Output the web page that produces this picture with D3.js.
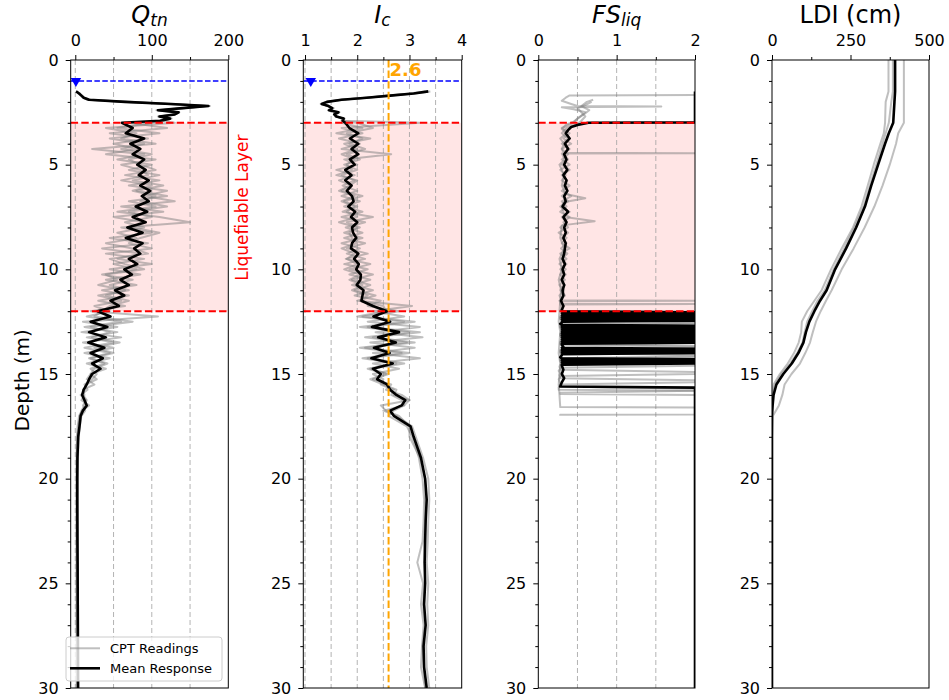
<!DOCTYPE html>
<html>
<head>
<meta charset="utf-8">
<script src="https://cdn.jsdelivr.net/npm/d3@7"></script>
<style>
  body { margin: 0; background: #fff; }
  text { font-family: "DejaVu Sans", sans-serif; }
</style>
</head>
<body>
<div id="chart-area"></div>
<script>
// ---- values (depth in m) ----
var depthGrid = [1.5, 1.6, 1.7, 1.8, 1.9, 2.0, 2.1, 2.2, 2.3, 2.4, 2.5, 2.6, 2.7, 2.8, 2.9,
    3.0, 3.25, 3.5, 3.75, 4.0, 4.25, 4.5, 4.75, 5.0, 5.25, 5.5, 5.75, 6.0, 6.25, 6.5, 6.75,
    7.0, 7.25, 7.5, 7.75, 8.0, 8.25, 8.5, 8.75, 9.0, 9.25, 9.5, 9.75, 10.0, 10.25, 10.5, 10.75,
    11.0, 11.25, 11.5, 11.75, 12.0, 12.25, 12.5, 12.75, 13.0, 13.25, 13.5, 13.75, 14.0, 14.25,
    14.5, 14.75, 15.0, 15.25, 15.5, 15.75, 16.0, 16.25, 16.5, 16.75, 17.0,
    17.5, 18, 19, 20, 21, 22, 23, 24, 25, 26, 27, 28, 29, 30];

var qtnMean = [1, 5, 8, 11, 18, 65, 125, 174, 140, 108, 135, 130, 110, 124, 111,
    61, 75, 66, 90, 72, 85, 75, 90, 81, 92, 83, 96, 85, 98, 87, 96, 79, 94, 75, 92, 68, 88, 66, 88,
    77, 85, 70, 81, 64, 74, 59, 70, 52, 64, 46, 57, 29, 46, 20, 42, 18, 40, 17, 38, 20, 36, 22, 33,
    22, 18, 15, 11, 9, 12, 15, 10, 7,
    5.5, 3.8, 2.8, 2.6, 2.6, 2.7, 2.8, 3, 3.1, 3.2, 3.3, 3.4, 3.5, 3.6];
var qtnCpt1 = [2, 4, 7, 10, 16, 60, 120, 170, 142, 112, 132, 128, 112, 120, 110,
    130, 40, 80, 60, 105, 22, 90, 55, 100, 70, 110, 75, 115, 80, 120, 70, 105, 55, 110, 150, 60, 100,
    45, 95, 35, 85, 55, 100, 45, 85, 40, 80, 35, 70, 30, 65, 20, 108, 10, 55, 8, 60, 10, 50, 12, 45,
    15, 40, 20, 15, 25, 10, 12, 8, 18, 9, 5,
    3, 2, 1.5, 1.2, 1.2, 1.3, 1.3, 1.4, 1.4, 1.5, 1.5, 1.6, 1.6, 1.7];
var qtnCpt2 = [1, 5, 9, 12, 20, 70, 128, 172, 138, 106, 136, 131, 108, 126, 113,
    100, 55, 110, 45, 90, 60, 100, 70, 85, 105, 65, 110, 70, 120, 90, 130, 60, 115, 50, 90, 75, 110,
    85, 70, 100, 40, 90, 50, 80, 35, 75, 45, 70, 30, 60, 25, 45, 15, 60, 12, 55, 15, 50, 12, 45, 18,
    38, 20, 28, 22, 12, 16, 7, 14, 10, 13, 8,
    6, 4.5, 3.5, 3.2, 3.2, 3.3, 3.4, 3.5, 3.6, 3.7, 3.8, 3.9, 4, 4];
var qtnCpt3 = [1, 6, 8, 11, 17, 62, 122, 176, 140, 110, 134, 129, 111, 122, 112,
    70, 120, 45, 95, 50, 80, 40, 105, 60, 85, 95, 60, 100, 75, 105, 85, 120, 70, 100, 65, 90, 55,
    80, 40, 75, 95, 45, 65, 90, 40, 55, 30, 65, 40, 70, 45, 35, 25, 75, 20, 45, 22, 58, 25, 50, 20,
    42, 25, 20, 28, 14, 12, 10, 15, 12, 8, 6,
    4, 3, 2.5, 2.3, 2.3, 2.4, 2.5, 2.6, 2.7, 2.8, 2.9, 3, 3, 3.1];

var icMean = [3.36, 3.08, 2.63, 2.18, 1.7, 1.42, 1.32, 1.45, 1.52, 1.46, 1.64, 1.56, 1.6, 1.74, 1.72,
    1.77, 1.85, 2.02, 1.86, 2.02, 1.89, 2.02, 1.86, 1.95, 1.77, 1.89, 1.77, 1.89, 1.8, 1.9, 1.93,
    1.83, 1.96, 1.88, 2.0, 1.9, 1.92, 1.98, 1.9, 1.88, 2.02, 1.94, 2.03, 1.98, 2.07, 2.06, 1.99,
    2.12, 2.1, 2.08, 2.3, 2.57, 2.31, 2.63, 2.28, 2.8, 2.4, 2.74, 2.32, 2.62, 2.27, 2.68, 2.3,
    2.45, 2.38, 2.57, 2.63, 2.75, 2.92, 2.85, 2.63, 2.7,
    3.02, 3.08, 3.22, 3.3, 3.33, 3.31, 3.3, 3.29, 3.3, 3.28, 3.31, 3.27, 3.28, 3.33];
var icCpt1 = [3.3, 3.0, 2.6, 2.15, 1.7, 1.45, 1.35, 1.42, 1.55, 1.48, 1.6, 1.55, 1.62, 1.7, 1.75,
    3.2, 1.7, 2.1, 1.65, 2.05, 1.7, 2.65, 1.75, 2.0, 1.6, 1.95, 1.65, 1.9, 1.7, 2.1, 1.75, 2.0,
    1.72, 2.3, 1.8, 2.05, 1.75, 2.1, 1.7, 2.05, 1.8, 2.15, 1.75, 2.2, 1.85, 2.25, 1.9, 2.3, 1.95,
    2.45, 2.2, 2.8, 2.1, 3.1, 2.2, 3.2, 2.3, 3.1, 2.15, 3.0, 2.2, 2.9, 2.25, 2.6, 2.3, 2.65, 2.55,
    2.85, 3.0, 2.9, 2.5, 2.75,
    3.05, 3.12, 3.26, 3.36, 3.38, 3.36, 3.35, 3.33, 3.36, 3.34, 3.36, 3.32, 3.33, 3.38];
var icCpt2 = [3.4, 3.1, 2.65, 2.2, 1.72, 1.4, 1.3, 1.47, 1.5, 1.44, 1.66, 1.58, 1.58, 1.76, 1.7,
    2.0, 2.3, 1.8, 2.1, 1.85, 2.15, 1.8, 2.05, 1.75, 2.0, 1.7, 1.95, 1.72, 2.0, 1.7, 2.05, 1.75,
    2.1, 1.7, 2.15, 1.78, 2.1, 1.75, 2.15, 1.8, 2.2, 1.78, 2.25, 1.85, 2.3, 1.9, 2.25, 1.95, 2.35,
    2.0, 3.05, 2.3, 2.9, 2.2, 3.2, 2.35, 3.25, 2.25, 3.1, 2.3, 3.2, 2.3, 2.8, 2.3, 2.5, 2.45, 2.7,
    2.65, 2.85, 2.9, 2.7, 2.6,
    2.95, 3.05, 3.18, 3.25, 3.28, 3.27, 3.25, 3.15, 3.26, 3.22, 3.27, 3.24, 3.22, 3.3];
var icCpt3 = [3.35, 3.05, 2.62, 2.17, 1.68, 1.43, 1.33, 1.44, 1.53, 1.47, 1.63, 1.57, 1.61, 1.73, 1.73,
    1.7, 2.1, 1.6, 2.25, 1.75, 2.0, 1.7, 1.95, 1.8, 1.9, 1.6, 2.0, 1.85, 1.65, 1.95, 1.7, 1.95,
    1.8, 2.0, 1.65, 2.0, 1.85, 1.9, 2.0, 1.7, 1.95, 1.8, 2.0, 1.75, 2.05, 1.85, 2.1, 1.9, 2.2,
    2.05, 2.5, 2.55, 2.0, 2.9, 2.05, 3.0, 2.15, 2.95, 2.05, 2.85, 2.1, 2.75, 2.2, 2.55, 2.25, 2.5,
    2.75, 2.7, 3.0, 2.45, 2.55, 2.8,
    3.0, 3.0, 3.2, 3.3, 3.3, 3.3, 3.28, 3.3, 3.3, 3.26, 3.3, 3.25, 3.27, 3.3];

// FS is capped at 2; the samples below 12 m flip between ~0.3 and the cap
var fsMeanDepth = [1.5, 2.98,
    3.0, 3.1, 3.2, 3.35, 3.5, 3.75, 4.0, 4.25, 4.5, 4.75, 5.0, 5.25, 5.5, 5.75, 6.0, 6.25, 6.5,
    6.75, 7.0, 7.25, 7.5, 7.75, 8.0, 8.25, 8.5, 8.75, 9.0, 9.25, 9.5, 9.75, 10.0, 10.25, 10.5,
    10.75, 11.0, 11.25, 11.5, 11.75, 11.95,
    12.0, 12.05, 12.1, 12.15, 12.2, 12.25, 12.3, 12.35, 12.4, 12.45, 12.5, 12.55, 12.6,
    12.65, 12.7, 12.75, 12.8, 12.85, 12.9, 12.95, 13.0, 13.05, 13.1, 13.15, 13.2, 13.25, 13.3,
    13.35, 13.4, 13.45, 13.5, 13.55, 13.6, 13.7,
    13.75, 13.8, 13.85, 13.9, 13.95, 14.0, 14.05, 14.1, 14.2,
    14.25, 14.3, 14.35, 14.4, 14.45, 14.5, 14.55, 14.6,
    14.8, 15.0, 15.2, 15.4, 15.6, 15.65, 30];
var fsMean = [2, 2,
    0.64, 0.5, 0.42, 0.38, 0.35, 0.4, 0.34, 0.38, 0.33, 0.36, 0.33, 0.37, 0.32, 0.36, 0.34, 0.37,
    0.33, 0.35, 0.31, 0.38, 0.32, 0.36, 0.33, 0.35, 0.32, 0.35, 0.34, 0.33, 0.31, 0.34, 0.31, 0.33,
    0.3, 0.33, 0.31, 0.32, 0.29, 0.32, 0.3,
    0.3, 2, 0.3, 2, 0.3, 2, 0.3, 2, 0.3, 2, 0.3, 0.3, 0.28,
    0.3, 2, 0.3, 2, 0.3, 2, 0.3, 2, 0.3, 2, 0.3, 2, 0.3, 2, 0.3, 2, 0.3, 2, 0.3, 0.3, 0.32,
    0.3, 2, 0.3, 2, 0.3, 2, 0.3, 0.3, 0.28,
    0.3, 2, 0.3, 2, 0.3, 2, 0.3, 0.3,
    0.32, 0.3, 0.33, 0.3, 0.28, 2, 2];

var fsCpt1Depth = [1.67, 1.69, 1.8, 1.95, 2.1, 2.2, 2.22, 2.26, 2.35, 2.5, 2.65, 2.8, 2.95, 3.1,
    3.3, 3.5, 3.75, 4.0, 4.25, 4.43, 4.45, 4.47, 4.75, 5.0, 5.5, 6.0, 6.4, 6.6, 6.8, 7.0, 7.5, 7.7,
    7.9, 8.5, 9.0, 9.5, 10.0, 10.5, 11.0, 11.5, 12.0, 12.5, 13.0, 13.5, 14.0, 14.5, 15.0, 15.5,
    16.0, 16.58, 16.6, 16.93, 16.95, 17.0];
var fsCpt1 = [2, 0.4, 0.35, 0.3, 0.42, 0.5, 1.57, 0.3, 0.45, 0.6, 0.55, 0.5, 0.45, 0.35,
    0.3, 0.36, 0.28, 0.33, 0.3, 0.32, 2, 0.3, 0.34, 0.27, 0.33, 0.3, 0.35, 0.6, 0.32, 0.3, 0.34, 0.72,
    0.3, 0.28, 0.33, 0.27, 0.3, 0.26, 0.29, 0.28, 0.27, 0.26, 0.28, 0.27, 0.26, 0.28, 0.27, 0.26,
    0.27, 0.28, 2, 2, 0.28, 0.28];

var fsCpt2Depth = [1.9, 2.0, 2.2, 2.4, 2.6, 2.8, 3.0, 3.25, 3.5, 3.75, 4.0, 4.25, 4.5, 4.75, 5.0,
    5.25, 5.5, 5.75, 6.0, 6.25, 6.5, 6.75, 7.0, 7.25, 7.5, 7.75, 8.0, 8.25, 8.5, 8.75, 9.0, 9.25,
    9.5, 9.75, 10.0, 10.25, 10.5, 10.75, 11.0, 11.25, 11.48, 11.5, 11.52, 11.64, 11.66, 11.68, 11.8,
    12.0, 12.1, 12.2, 12.3, 12.4, 12.5, 12.6, 12.7, 12.8, 12.9, 13.0, 13.1, 13.2, 13.3, 13.4, 13.5,
    13.6, 13.7, 13.8, 13.9, 14.0, 14.1, 14.2, 14.3, 14.4, 14.5, 14.6, 14.7, 14.8, 14.9, 15.0, 15.1,
    15.2, 15.3, 15.4, 15.5, 15.6, 15.7, 15.8, 15.9, 15.95, 16.0, 30];
var fsCpt2 = [0.7, 0.62, 0.55, 0.65, 0.58, 0.5, 0.45, 0.3, 0.4, 0.32, 0.42, 0.3, 0.38, 0.3, 0.4,
    0.28, 0.35, 0.3, 0.4, 0.3, 0.42, 0.3, 0.36, 0.28, 0.4, 0.32, 0.38, 0.26, 0.36, 0.3, 0.4, 0.28,
    0.36, 0.27, 0.35, 0.28, 0.34, 0.27, 0.33, 0.27, 0.3, 2, 0.28, 0.28, 2, 0.28, 0.3,
    0.28, 2, 2, 0.28, 0.28, 2, 2, 0.28, 0.28, 2, 2, 0.28, 0.28, 2, 2, 0.28,
    0.28, 2, 2, 0.28, 0.28, 2, 2, 0.28, 0.28, 2, 2, 0.28, 0.28, 2, 2, 0.28,
    0.28, 2, 2, 0.28, 0.28, 2, 2, 0.28, 0.28, 2, 2];

var fsCpt3Depth = [2.0, 2.15, 2.3, 2.5, 2.7, 2.9, 3.05,
    3.25, 3.5, 3.75, 4.0, 4.25, 4.5, 4.75, 5.0, 5.25, 5.5, 5.75, 6.0, 6.25, 6.5, 6.75, 7.0, 7.25,
    7.5, 7.75, 8.0, 8.25, 8.5, 8.75, 9.0, 9.25, 9.5, 9.75, 10.0, 10.25, 10.5, 10.75, 11.0, 11.25,
    11.5, 11.75, 12.0,
    12.05, 12.15, 12.25, 12.35, 12.45, 12.55, 12.65, 12.75, 12.85, 12.95, 13.05, 13.15, 13.25,
    13.35, 13.45, 13.55, 13.65, 13.75, 13.85, 13.95, 14.05, 14.15, 14.25, 14.35, 14.45, 14.55,
    14.65, 14.75, 14.85, 14.95, 15.05, 15.15, 15.25, 15.35, 15.45, 15.55,
    15.65, 15.75, 15.8, 30];
var fsCpt3 = [0.68, 0.6, 0.5, 0.55, 0.6, 0.55, 0.5,
    0.36, 0.3, 0.38, 0.3, 0.4, 0.32, 0.38, 0.3, 0.4, 0.3, 0.37, 0.32, 0.38, 0.3, 0.38, 0.28, 0.4,
    0.3, 0.36, 0.28, 0.38, 0.3, 0.36, 0.29, 0.37, 0.29, 0.36, 0.28, 0.35, 0.28, 0.34, 0.28, 0.34,
    0.27, 0.33, 0.28,
    2, 2, 0.28, 0.28, 2, 2, 0.28, 0.28, 2, 2, 0.28, 0.28, 2, 2, 0.28, 0.28, 2, 2, 0.28, 0.28,
    2, 2, 0.28, 0.28, 2, 0.28, 0.27, 0.28, 0.26, 0.28, 0.27, 0.28, 0.26, 0.27, 0.28, 0.27,
    0.26, 0.26, 2, 2];

var ldiDepth = [0, 1.5, 2, 2.5, 3, 3.5, 4, 5, 6, 7, 8, 9, 10, 11, 11.5, 12, 12.5, 13, 13.5, 14,
    14.5, 15, 15.5, 16, 16.5, 17, 18, 20, 25, 30];
var ldiMean = [392, 392, 390, 388, 386, 372, 360, 338, 316, 296, 268, 236, 201, 174, 153, 135,
    119, 108, 100, 84, 63, 36, 14, 5, 2, 0, 0, 0, 0, 0];
var ldiCpt1 = [371, 371, 362, 361, 360, 356, 345, 324, 305, 285, 258, 222, 188, 158, 135, 112,
    95, 93, 85, 70, 50, 25, 5, 0, 0, 0, 0, 0, 0, 0];
var ldiCpt2 = [420, 420, 420, 420, 420, 402, 395, 375, 352, 326, 295, 260, 222, 190, 172, 155,
    140, 130, 121, 106, 89, 62, 40, 33, 22, 3, 0, 0, 0, 0];
var ldiCpt3 = [385, 385, 380, 376, 372, 362, 352, 332, 312, 292, 262, 230, 196, 168, 145, 128,
    112, 104, 97, 80, 58, 30, 10, 2, 0, 0, 0, 0, 0, 0];

var waterTable = 1.0;
var layerTop = 3, layerBottom = 12;
var icCutoff = 2.6;
var depthTicks = [0, 5, 10, 15, 20, 25, 30];
var depthMinor = [1, 2, 3, 4, 6, 7, 8, 9, 11, 12, 13, 14, 16, 17, 18, 19, 21, 22, 23, 24, 26, 27, 28, 29];

// ---- drawing ----
var svg = d3.select("#chart-area").append("svg")
    .attr("width", 949)
    .attr("height", 700);

var y = d3.scaleLinear().domain([0, 30]).range([60, 688]);

var panels = [
    {title: [["Q", 0], ["tn", 1]], domain: [-6, 200], range: [70.7, 228.3],
     ticks: [0, 100, 200], minor: [50, 150], grid: [0, 50, 100, 150], layer: true, wt: 0.8,
     cpts: [[depthGrid, qtnCpt1], [depthGrid, qtnCpt2], [depthGrid, qtnCpt3]],
     mean: [depthGrid, qtnMean]},
    {title: [["I", 0], ["c", 1]], domain: [0.967, 4], range: [303.3, 461.7],
     ticks: [1, 2, 3, 4], minor: [1.5, 2.5, 3.5], grid: [1, 1.5, 2, 2.5, 3, 3.5], layer: true, wt: 1.11,
     cpts: [[depthGrid, icCpt1], [depthGrid, icCpt2], [depthGrid, icCpt3]],
     mean: [depthGrid, icMean]},
    {title: [["FS", 0], ["liq", 1]], domain: [0, 2], range: [538.3, 695],
     ticks: [0, 1, 2], minor: [0.5, 1.5], grid: [0.5, 1, 1.5], layer: true,
     cpts: [[fsCpt1Depth, fsCpt1], [fsCpt2Depth, fsCpt2], [fsCpt3Depth, fsCpt3]],
     mean: [fsMeanDepth, fsMean]},
    {title: [["LDI (cm)", 2]], domain: [0, 500], range: [772, 929],
     ticks: [0, 250, 500], minor: [125, 375], grid: [], layer: false,
     cpts: [[ldiDepth, ldiCpt1], [ldiDepth, ldiCpt2], [ldiDepth, ldiCpt3]],
     mean: [ldiDepth, ldiMean]}
];

panels.forEach(function(p, i) {
    var x = d3.scaleLinear().domain(p.domain).range(p.range);
    var w = p.range[1] - p.range[0];
    var g = svg.append("g");

    g.append("clipPath").attr("id", "clip" + i)
        .append("rect")
        .attr("x", p.range[0]).attr("y", y(0))
        .attr("width", w).attr("height", y(30) - y(0));
    var plot = g.append("g").attr("clip-path", "url(#clip" + i + ")");

    if (p.layer) {
        plot.append("rect")
            .attr("x", p.range[0]).attr("width", w)
            .attr("y", y(layerTop)).attr("height", y(layerBottom) - y(layerTop))
            .attr("fill", "red").attr("fill-opacity", 0.1);
    }

    plot.selectAll("line.grid").data(p.grid).enter().append("line")
        .attr("class", "grid")
        .attr("x1", d => x(d)).attr("x2", d => x(d))
        .attr("y1", y(0)).attr("y2", y(30))
        .attr("stroke", "#a0a0a0").attr("stroke-width", 0.8)
        .attr("stroke-dasharray", "5,3");

    var line = d3.line()
        .x(d => x(d[1]))
        .y(d => y(d[0]));

    p.cpts.forEach(function(s) {
        plot.append("path")
            .datum(d3.zip(s[0], s[1]))
            .attr("d", line)
            .attr("fill", "none")
            .attr("stroke", "gray").attr("stroke-opacity", 0.5)
            .attr("stroke-width", 2).attr("stroke-linejoin", "round");
    });
    plot.append("path")
        .datum(d3.zip(p.mean[0], p.mean[1]))
        .attr("d", line)
        .attr("fill", "none")
        .attr("stroke", "black")
        .attr("stroke-width", 2.6).attr("stroke-linejoin", "round");

    if (p.layer) {
        plot.selectAll("line.layer").data([layerTop, layerBottom]).enter().append("line")
            .attr("x1", p.range[0]).attr("x2", p.range[1])
            .attr("y1", d => y(d)).attr("y2", d => y(d))
            .attr("stroke", "red").attr("stroke-width", 2)
            .attr("stroke-dasharray", "7.4,3.2");
    }

    if (p.wt !== undefined) {
        plot.append("line")
            .attr("x1", p.range[0]).attr("x2", p.range[1])
            .attr("y1", y(waterTable)).attr("y2", y(waterTable))
            .attr("stroke", "blue").attr("stroke-width", 1.5)
            .attr("stroke-dasharray", "5.5,2.4");
        plot.append("path")
            .attr("d", d3.symbol(d3.symbolTriangle, 48)())
            .attr("transform", "translate(" + x(p.wt) + "," + y(waterTable) + ") rotate(180)")
            .attr("fill", "blue");
    }

    if (i === 1) {
        plot.append("line")
            .attr("x1", x(icCutoff)).attr("x2", x(icCutoff))
            .attr("y1", y(0)).attr("y2", y(30))
            .attr("stroke", "orange").attr("stroke-width", 2)
            .attr("stroke-dasharray", "7.4,3.2");
        g.append("text")
            .attr("x", x(icCutoff) + 1).attr("y", y(0.77))
            .attr("fill", "orange").attr("font-weight", "bold").attr("font-size", 18)
            .text(icCutoff);
    }

    // frame
    g.append("rect")
        .attr("x", p.range[0]).attr("y", y(0))
        .attr("width", w).attr("height", y(30) - y(0))
        .attr("fill", "none").attr("stroke", "black").attr("stroke-width", 1);

    // top axis
    var xAxis = g.append("g")
        .attr("transform", "translate(0," + y(0) + ")")
        .call(d3.axisTop(x).tickValues(p.ticks).tickSize(5).tickPadding(9).tickFormat(d3.format("~g")));
    xAxis.select(".domain").remove();
    xAxis.attr("font-size", 16).attr("font-family", "DejaVu Sans");
    var xMinor = g.append("g")
        .attr("transform", "translate(0," + y(0) + ")")
        .call(d3.axisTop(x).tickValues(p.minor).tickSize(3).tickFormat(""));
    xMinor.select(".domain").remove();

    // left axis
    var yAxis = g.append("g")
        .attr("transform", "translate(" + p.range[0] + ",0)")
        .call(d3.axisLeft(y).tickValues(depthTicks).tickSize(5).tickPadding(7));
    yAxis.select(".domain").remove();
    yAxis.attr("font-size", 16).attr("font-family", "DejaVu Sans");
    var yMinor = g.append("g")
        .attr("transform", "translate(" + p.range[0] + ",0)")
        .call(d3.axisLeft(y).tickValues(depthMinor).tickSize(3).tickFormat(""));
    yMinor.select(".domain").remove();

    // title
    var t = g.append("text")
        .attr("x", p.range[0] + w / 2).attr("y", 23)
        .attr("text-anchor", "middle").attr("font-size", 24);
    p.title.forEach(function(part) {
        var ts = t.append("tspan").text(part[0]);
        if (part[1] < 2) ts.attr("font-style", "italic");
        if (part[1] === 1) ts.attr("font-size", 17).attr("dy", 3);
    });
});

// y label
svg.append("text")
    .attr("transform", "translate(22," + y(15.3) + ") rotate(-90)")
    .attr("text-anchor", "middle").attr("dominant-baseline", "central")
    .attr("font-size", 20)
    .text("Depth (m)");

// liquefiable layer note
svg.append("text")
    .attr("transform", "translate(242," + y(7.05) + ") rotate(-90)")
    .attr("text-anchor", "middle").attr("dominant-baseline", "central")
    .attr("font-size", 17).attr("fill", "red")
    .text("Liquefiable Layer");

// legend
var leg = svg.append("g");
leg.append("rect")
    .attr("x", 66).attr("y", 637).attr("width", 156).attr("height", 44).attr("rx", 3)
    .attr("fill", "white").attr("fill-opacity", 0.8)
    .attr("stroke", "#cccccc").attr("stroke-width", 1);
var legItems = [["CPT Readings", "gray", 0.5, 2], ["Mean Response", "black", 1, 2.6]];
legItems.forEach(function(it, k) {
    var ly = 648.3 + k * 20;
    leg.append("line")
        .attr("x1", 70).attr("x2", 100).attr("y1", ly).attr("y2", ly)
        .attr("stroke", it[1]).attr("stroke-opacity", it[2]).attr("stroke-width", it[3]);
    leg.append("text")
        .attr("x", 110).attr("y", ly).attr("dominant-baseline", "central")
        .attr("font-size", 13)
        .text(it[0]);
});
</script>
</body>
</html>
